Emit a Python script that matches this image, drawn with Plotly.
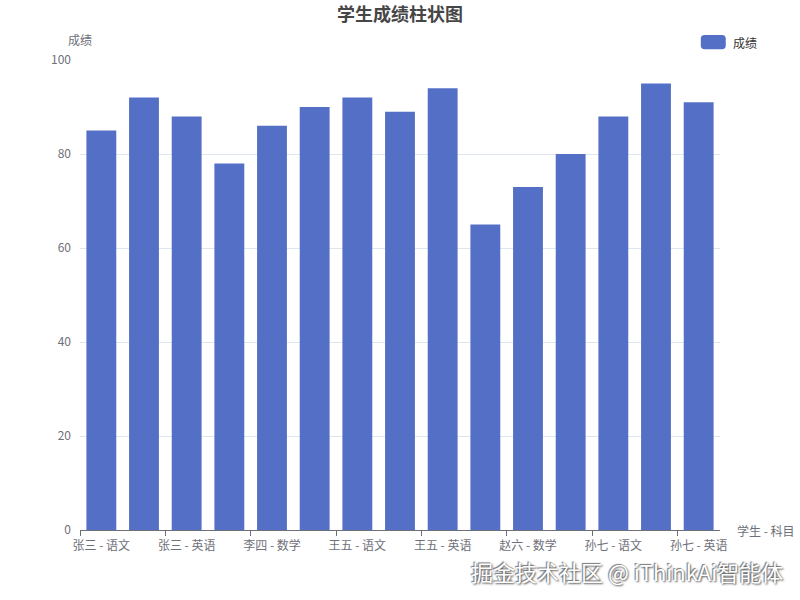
import plotly.graph_objects as go

FONT = 'Noto Sans CJK SC, Noto Sans, sans-serif'
hex_bar = '#5470C6'
hex_axis = '#6E7079'
hex_grid = '#E0E6F1'

categories = ['张三 - 语文', '张三 - 数学', '张三 - 英语',
              '李四 - 语文', '李四 - 数学', '李四 - 英语',
              '王五 - 语文', '王五 - 数学', '王五 - 英语',
              '赵六 - 语文', '赵六 - 数学', '赵六 - 英语',
              '孙七 - 语文', '孙七 - 数学', '孙七 - 英语']
scores = [85, 92, 88, 78, 86, 90, 92, 89, 94, 65, 73, 80, 88, 95, 91]
y_ticks = [0, 20, 40, 60, 80, 100]


def rounded_rect(x0, y0, x1, y1, rx, ry):
    return (f'M {x0+rx},{y0} L {x1-rx},{y0} Q {x1},{y0} {x1},{y0+ry} '
            f'L {x1},{y1-ry} Q {x1},{y1} {x1-rx},{y1} L {x0+rx},{y1} '
            f'Q {x0},{y1} {x0},{y1-ry} L {x0},{y0+ry} Q {x0},{y0} {x0+rx},{y0} Z')


fig = go.Figure()

fig.add_trace(go.Bar(
    x=categories,
    y=scores,
    name='成绩',
    marker_color=hex_bar,
    marker_line_width=0,
    showlegend=False,
))

# axes
fig.update_xaxes(
    type='category',
    tickmode='linear', tick0=0, dtick=2,
    tickson='boundaries',
    ticks='outside', ticklen=5, tickcolor=hex_axis,
    showline=True, linecolor=hex_axis, linewidth=1,
    showgrid=False,
    tickfont=dict(size=12, color=hex_axis),
    ticklabelstandoff=5,
    tickangle=0,
)
fig.update_yaxes(
    range=[0, 100],
    tickvals=y_ticks,
    showline=False,
    gridcolor=hex_grid, gridwidth=1,
    zeroline=False,
    ticks='', ticklabelstandoff=8,
    tickfont=dict(size=12, color=hex_axis),
)

# hand-made legend (rounded swatch like the reference)
fig.add_shape(type='path', xref='paper', yref='paper',
              path=rounded_rect(0.970, 1.023, 1.009, 1.053, 0.006, 0.008),
              fillcolor=hex_bar, line_width=0)

fig.update_layout(
    width=800, height=600,
    font=dict(family=FONT, color=hex_axis),
    plot_bgcolor='white',
    paper_bgcolor='white',
    margin={'l': 80, 'r': 80, 't': 60, 'b': 70},
    bargap=0.30,
    title=dict(
        text='<b>学生成绩柱状图</b>',
        x=0.5, xanchor='center',
        y=0.975, yanchor='middle',
        font=dict(size=18, color='#464646', family=FONT),
    ),
    annotations=[
        # legend text
        dict(text='成绩', xref='paper', yref='paper', x=1.017, y=1.038,
             xanchor='left', yanchor='middle', showarrow=False,
             font=dict(size=12, color='#333')),
        # axis names
        dict(text='成绩', xref='paper', yref='paper', x=0.0, y=1.043,
             xanchor='center', yanchor='middle', showarrow=False,
             font=dict(size=12, color=hex_axis)),
        dict(text='学生 - 科目', xref='paper', yref='paper', x=1.023, y=0.0,
             xanchor='left', yanchor='middle', showarrow=False,
             font=dict(size=12, color=hex_axis)),
        # watermark
        dict(text='掘金技术社区 @ iThinkAi智能体', xref='paper', yref='paper',
             x=1.102, y=-0.087, xanchor='right', yanchor='middle',
             showarrow=False,
             font=dict(size=22, color='white', family=FONT,
                       shadow='1px 1px 2px #555, -1px -1px 1px #777')),
    ],
)

fig.write_html('out.html', config={'displayModeBar': False},
               post_script="document.body.style.margin='0';")
